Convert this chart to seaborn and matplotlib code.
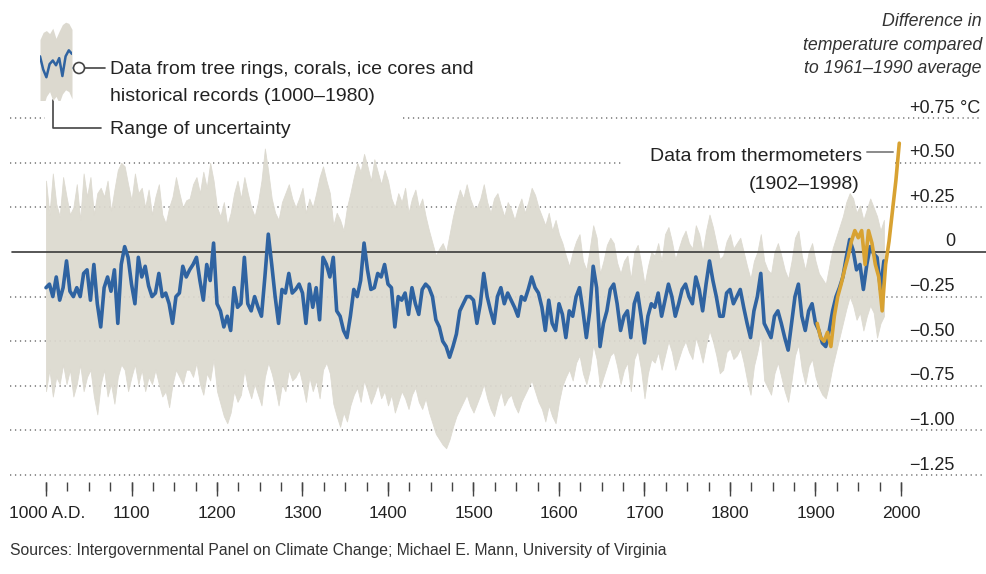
import numpy as np
import pandas as pd
import matplotlib
matplotlib.use("Agg")
import matplotlib.pyplot as plt
from matplotlib.patches import Circle
import seaborn as sns

# ---------------- data (4-year steps) ----------------
recon_1000_1164 = [-0.20, -0.18, -0.25, -0.14, -0.27, -0.20, -0.05, -0.22, -0.25, -0.20,
                   -0.25, -0.12, -0.10, -0.27, -0.07, -0.29, -0.42, -0.20, -0.14, -0.22,
                   -0.10, -0.40, -0.07, 0.03, -0.03, -0.18, -0.29, -0.03, -0.14, -0.08,
                   -0.19, -0.25, -0.23, -0.12, -0.25, -0.23, -0.29, -0.40, -0.25, -0.23,
                   -0.08, -0.14]
recon_1168_1332 = [-0.10, -0.07, -0.03, -0.16, -0.27, -0.07, -0.16, 0.05, -0.29, -0.33,
                   -0.42, -0.36, -0.44, -0.20, -0.31, -0.29, -0.03, -0.29, -0.33, -0.25,
                   -0.31, -0.36, -0.14, 0.10, -0.07, -0.25, -0.40, -0.21, -0.23, -0.12,
                   -0.23, -0.21, -0.18, -0.23, -0.40, -0.18, -0.31, -0.20, -0.38, -0.03,
                   -0.07, -0.14]
recon_1336_1500 = [-0.03, -0.33, -0.36, -0.44, -0.48, -0.36, -0.21, -0.25, -0.16, 0.05,
                   -0.10, -0.21, -0.20, -0.12, -0.14, -0.07, -0.18, -0.20, -0.42, -0.25,
                   -0.27, -0.23, -0.35, -0.20, -0.29, -0.35, -0.21, -0.18, -0.20, -0.25,
                   -0.38, -0.42, -0.50, -0.53, -0.59, -0.53, -0.46, -0.33, -0.29, -0.25,
                   -0.25, -0.27]
recon_1504_1668 = [-0.40, -0.29, -0.12, -0.25, -0.33, -0.40, -0.25, -0.20, -0.29, -0.23,
                   -0.27, -0.31, -0.36, -0.25, -0.27, -0.21, -0.14, -0.20, -0.23, -0.31,
                   -0.44, -0.27, -0.40, -0.44, -0.29, -0.35, -0.48, -0.33, -0.36, -0.25,
                   -0.20, -0.33, -0.48, -0.33, -0.08, -0.20, -0.53, -0.40, -0.33, -0.21,
                   -0.18, -0.29]
recon_1672_1836 = [-0.44, -0.36, -0.33, -0.48, -0.29, -0.23, -0.36, -0.51, -0.36, -0.29,
                   -0.31, -0.23, -0.36, -0.27, -0.18, -0.25, -0.36, -0.29, -0.21, -0.18,
                   -0.25, -0.29, -0.14, -0.21, -0.33, -0.18, -0.05, -0.16, -0.25, -0.36,
                   -0.36, -0.23, -0.21, -0.29, -0.25, -0.21, -0.31, -0.40, -0.48, -0.33,
                   -0.25, -0.12]
recon_1840_1980 = [-0.40, -0.44, -0.48, -0.36, -0.33, -0.40, -0.48, -0.55, -0.40, -0.25,
                   -0.18, -0.36, -0.44, -0.33, -0.29, -0.40, -0.44, -0.51, -0.53, -0.44,
                   -0.33, -0.25, -0.20, -0.14, -0.03, 0.07, 0.01, -0.10, -0.07, -0.21,
                   -0.07, 0.03, -0.01, -0.03, -0.21, -0.05]

upper_1000_1164 = [0.40, 0.21, 0.44, 0.27, 0.20, 0.42, 0.31, 0.21, 0.25, 0.38,
                   0.18, 0.44, 0.31, 0.42, 0.21, 0.33, 0.36, 0.31, 0.40, 0.23,
                   0.35, 0.46, 0.50, 0.48, 0.38, 0.29, 0.44, 0.33, 0.36, 0.25,
                   0.35, 0.21, 0.31, 0.38, 0.21, 0.16, 0.25, 0.31, 0.42, 0.33,
                   0.25, 0.29]
upper_1168_1332 = [0.30, 0.38, 0.42, 0.33, 0.45, 0.36, 0.50, 0.40, 0.25, 0.20,
                   0.28, 0.15, 0.22, 0.33, 0.40, 0.30, 0.42, 0.33, 0.25, 0.20,
                   0.28, 0.40, 0.58, 0.45, 0.30, 0.22, 0.18, 0.28, 0.33, 0.38,
                   0.30, 0.25, 0.30, 0.36, 0.22, 0.30, 0.25, 0.33, 0.42, 0.48,
                   0.40, 0.33]
upper_1336_1500 = [0.15, 0.22, 0.18, 0.12, 0.25, 0.33, 0.42, 0.50, 0.45, 0.55,
                   0.48, 0.40, 0.52, 0.45, 0.38, 0.46, 0.40, 0.30, 0.25, 0.33,
                   0.28, 0.36, 0.22, 0.30, 0.35, 0.25, 0.30, 0.20, 0.12, 0.05,
                   -0.02, 0.02, 0.05, 0.00, 0.10, 0.20, 0.28, 0.35, 0.30, 0.38,
                   0.30, 0.25]
upper_1504_1668 = [0.25, 0.30, 0.38, 0.28, 0.22, 0.30, 0.33, 0.26, 0.20, 0.28,
                   0.24, 0.18, 0.25, 0.30, 0.22, 0.28, 0.36, 0.32, 0.25, 0.20,
                   0.15, 0.22, 0.12, 0.18, 0.10, 0.05, -0.02, -0.08, 0.00, 0.06,
                   0.10, -0.05, -0.10, 0.02, 0.15, 0.08, -0.12, -0.05, 0.04, 0.08,
                   0.05, -0.06]
upper_1672_1836 = [-0.12, -0.05, -0.02, -0.15, 0.00, 0.04, -0.06, -0.18, -0.08, 0.00,
                   -0.02, 0.05, -0.05, 0.10, 0.14, 0.06, -0.04, 0.02, 0.08, 0.12,
                   0.05, 0.02, 0.15, 0.10, 0.00, 0.12, 0.21, 0.14, 0.05, -0.04,
                   -0.02, 0.06, 0.10, 0.02, 0.05, 0.08, 0.00, -0.08, -0.15, -0.05,
                   0.00, 0.10]
upper_1840_1980 = [-0.05, -0.10, -0.12, 0.00, 0.05, -0.02, -0.10, -0.15, -0.05, 0.08,
                   0.12, -0.02, -0.10, 0.00, 0.05, -0.05, -0.12, -0.15, -0.18, -0.08,
                   0.02, 0.08, 0.14, 0.20, 0.28, 0.33, 0.30, 0.22, 0.26, 0.18,
                   0.24, 0.30, 0.25, 0.20, 0.12, 0.18]

lower_1000_1164 = [-0.78, -0.66, -0.81, -0.70, -0.74, -0.63, -0.74, -0.66, -0.81, -0.74,
                   -0.63, -0.78, -0.70, -0.66, -0.81, -0.91, -0.74, -0.66, -0.81, -0.74,
                   -0.85, -0.70, -0.63, -0.66, -0.78, -0.70, -0.63, -0.74, -0.66, -0.78,
                   -0.70, -0.74, -0.66, -0.74, -0.81, -0.78, -0.87, -0.74, -0.66, -0.70,
                   -0.74, -0.66]
lower_1168_1332 = [-0.66, -0.70, -0.62, -0.74, -0.80, -0.68, -0.72, -0.60, -0.78, -0.85,
                   -0.92, -0.96, -0.90, -0.78, -0.84, -0.80, -0.66, -0.76, -0.82, -0.74,
                   -0.80, -0.86, -0.70, -0.62, -0.68, -0.76, -0.86, -0.74, -0.78, -0.66,
                   -0.72, -0.70, -0.66, -0.74, -0.84, -0.70, -0.78, -0.72, -0.82, -0.66,
                   -0.62, -0.68]
lower_1336_1500 = [-0.85, -0.92, -0.98, -0.90, -0.95, -0.86, -0.80, -0.76, -0.84, -0.72,
                   -0.78, -0.85, -0.80, -0.74, -0.82, -0.78, -0.86, -0.80, -0.90, -0.84,
                   -0.78, -0.82, -0.88, -0.80, -0.76, -0.84, -0.88, -0.82, -0.90, -0.96,
                   -1.02, -1.05, -1.08, -1.10, -1.05, -0.98, -0.92, -0.88, -0.84, -0.80,
                   -0.86, -0.90]
lower_1504_1668 = [-0.85, -0.80, -0.74, -0.82, -0.88, -0.92, -0.84, -0.78, -0.86, -0.82,
                   -0.80, -0.86, -0.90, -0.84, -0.80, -0.76, -0.72, -0.78, -0.84, -0.88,
                   -0.95, -0.86, -0.92, -0.96, -0.84, -0.75, -0.70, -0.66, -0.72, -0.62,
                   -0.58, -0.68, -0.74, -0.66, -0.52, -0.60, -0.76, -0.70, -0.64, -0.58,
                   -0.56, -0.64]
lower_1672_1836 = [-0.74, -0.66, -0.62, -0.78, -0.60, -0.55, -0.66, -0.82, -0.68, -0.60,
                   -0.62, -0.56, -0.66, -0.58, -0.50, -0.56, -0.66, -0.60, -0.54, -0.50,
                   -0.56, -0.60, -0.48, -0.54, -0.62, -0.52, -0.44, -0.50, -0.58, -0.68,
                   -0.66, -0.56, -0.54, -0.60, -0.58, -0.54, -0.62, -0.72, -0.80, -0.64,
                   -0.56, -0.46]
lower_1840_1980 = [-0.72, -0.76, -0.80, -0.68, -0.62, -0.70, -0.78, -0.84, -0.72, -0.58,
                   -0.52, -0.66, -0.74, -0.64, -0.60, -0.70, -0.76, -0.80, -0.82, -0.74,
                   -0.64, -0.56, -0.48, -0.40, -0.32, -0.25, -0.30, -0.38, -0.34, -0.44,
                   -0.36, -0.30, -0.34, -0.48, -0.40, -0.36]

thermo_years = list(range(1902, 1999, 4))
thermo_vals = [-0.40, -0.48, -0.50, -0.45, -0.53, -0.36, -0.25, -0.18, -0.10, -0.03,
               0.06, 0.12, 0.08, 0.12, -0.07, 0.12, 0.05, -0.07, -0.14, -0.33,
               -0.07, 0.06, 0.23, 0.40, 0.61]

y_levels = [0.75, 0.50, 0.25, 0.0, -0.25, -0.50, -0.75, -1.00, -1.25]
y_labels = ["+0.75", "+0.50", "+0.25", "0", "\u22120.25", "\u22120.50", "\u22120.75",
            "\u22121.00", "\u22121.25"]
x_major = [1000, 1100, 1200, 1300, 1400, 1500, 1600, 1700, 1800, 1900, 2000]
x_labels = ["1000 A.D.", "1100", "1200", "1300", "1400", "1500", "1600", "1700",
            "1800", "1900", "2000"]
x_minor = list(range(1000, 2001, 25))

recon_years = list(range(1000, 1981, 4))
recon = (recon_1000_1164 + recon_1168_1332 + recon_1336_1500 + recon_1504_1668
         + recon_1672_1836 + recon_1840_1980)
upper = (upper_1000_1164 + upper_1168_1332 + upper_1336_1500 + upper_1504_1668
         + upper_1672_1836 + upper_1840_1980)
lower = (lower_1000_1164 + lower_1168_1332 + lower_1336_1500 + lower_1504_1668
         + lower_1672_1836 + lower_1840_1980)

df_recon = pd.DataFrame({"year": recon_years, "temp": recon, "hi": upper, "lo": lower})
df_thermo = pd.DataFrame({"year": thermo_years, "temp": thermo_vals})

# ---------------- style ----------------
sns.set_theme(style="white")
plt.rcParams["font.family"] = ["Liberation Sans", "DejaVu Sans"]

BAND = "#dcd9cf"
BLUE = "#2f63a1"
ORANGE = "#d8a232"
TXT = "#222222"
GRID = "#7a7a7a"

W, H = 986, 574
fig = plt.figure(figsize=(W / 100, H / 100), dpi=100)
fig.patch.set_facecolor("white")

# pixel <-> data mapping of the reference
def yr(px):
    return 1000 + (px - 46) / 0.855

def val(py):
    return (252 - py) / 178.4

ax = fig.add_axes([0, 1 - 500 / H, 1, (500 - 90) / H])

# gridlines (dotted), with gaps where the annotations sit
dot = (0, (0.8, 2.3))
for lev in y_levels:
    if lev == 0:
        continue
    if lev == 0.75:
        segs = [(yr(10), yr(45)), (yr(403), yr(982))]
    elif lev == 0.50:
        segs = [(yr(10), yr(623)), (yr(895), yr(982))]
    else:
        segs = [(yr(10), yr(982))]
    for a, b in segs:
        ax.plot([a, b], [lev, lev], color=GRID, lw=1.15, linestyle=dot, zorder=1)

# uncertainty band
ax.fill_between(df_recon["year"], df_recon["lo"], df_recon["hi"], color=BAND,
                lw=0.6, edgecolor=BAND, alpha=0.92, zorder=2)
# zero line
ax.plot([yr(12), yr(986)], [0, 0], color="#3a3a3a", lw=1.2, zorder=3)
# reconstruction and thermometer lines
sns.lineplot(data=df_recon, x="year", y="temp", ax=ax, color=BLUE, lw=2.6, zorder=4)
sns.lineplot(data=df_thermo, x="year", y="temp", ax=ax, color=ORANGE, lw=2.6, zorder=5)
ax.set_xlim(yr(0), yr(W))
ax.set_ylim(val(500), val(90))
ax.axis("off")

# x ticks
ax.vlines(x_minor, val(482), val(491), color="#444444", lw=1.0, zorder=3)
ax.vlines(x_major, val(482), val(496), color="#444444", lw=1.0, zorder=3)

# ---------------- overlay in pixel coords for text/annotations ----------------
ov = fig.add_axes([0, 0, 1, 1])
ov.set_xlim(0, W)
ov.set_ylim(H, 0)
ov.axis("off")
ov.patch.set_alpha(0)

# x labels
for yv, lab in zip(x_major, x_labels):
    px = 46 + (yv - 1000) * 0.855
    if yv == 1000:
        ov.text(9, 518, lab, fontsize=12.5, color=TXT, ha="left", va="baseline")
    else:
        ov.text(px, 518, lab, fontsize=12.5, color=TXT, ha="center", va="baseline")

# y labels
for lev, lab in zip(y_levels, y_labels):
    py = 252 - lev * 178.4 - 5.5
    ov.text(955, py, lab, fontsize=13, color=TXT, ha="right", va="baseline")
ov.text(955, 252 - 0.75 * 178.4 - 5.5, " \u00b0C", fontsize=13, color=TXT,
        ha="left", va="baseline")

# header on the right
for txt, py in [("Difference in", 26), ("temperature compared", 50),
                ("to 1961\u20131990 average", 73)]:
    ov.text(982, py, txt, fontsize=12.8, style="italic", color="#333333",
            ha="right", va="baseline")

# legend text
ov.text(110, 74, "Data from tree rings, corals, ice cores and", fontsize=14,
        color=TXT, ha="left", va="baseline")
ov.text(110, 101, "historical records (1000\u20131980)", fontsize=14,
        color=TXT, ha="left", va="baseline")
ov.text(110, 134, "Range of uncertainty", fontsize=14, color=TXT, ha="left",
        va="baseline")
ov.add_patch(Circle((79, 68), 5.5, facecolor="white", edgecolor="#444444", lw=1.2,
                    zorder=6))
ov.plot([84.5, 105], [68, 68], color="#444444", lw=1.2)
ov.plot([53, 53, 101], [100, 128, 128], color="#444444", lw=1.2)

# thermometer annotation
ov.text(862, 161, "Data from thermometers", fontsize=14, color=TXT, ha="right",
        va="baseline")
ov.text(860, 189, "(1902\u20131998)", fontsize=14, color=TXT, ha="right",
        va="baseline")
ov.plot([867, 893], [152, 152], color="#8a8a8a", lw=1.4)

# sources
ov.text(10, 555, "Sources: Intergovernmental Panel on Climate Change; Michael E. Mann, "
        "University of Virginia", fontsize=11.3, color="#333333", ha="left",
        va="baseline")

# legend icon: a small excerpt of the series itself
icon = df_recon[(df_recon["year"] >= 1056) & (df_recon["year"] <= 1096)]
iax = fig.add_axes([40 / W, 1 - 100 / H, 32 / W, 85 / H])
iax.fill_between(icon["year"], icon["lo"], icon["hi"], color=BAND, lw=0)
sns.lineplot(data=icon, x="year", y="temp", ax=iax, color=BLUE, lw=1.8)
iax.set_xlim(icon["year"].min(), icon["year"].max())
iax.set_ylim(-0.80, 0.62)
iax.axis("off")
ov.plot([72, 73.5], [68, 68], color=BLUE, lw=1.6)

fig.savefig("out.png", dpi=100, facecolor="white")
